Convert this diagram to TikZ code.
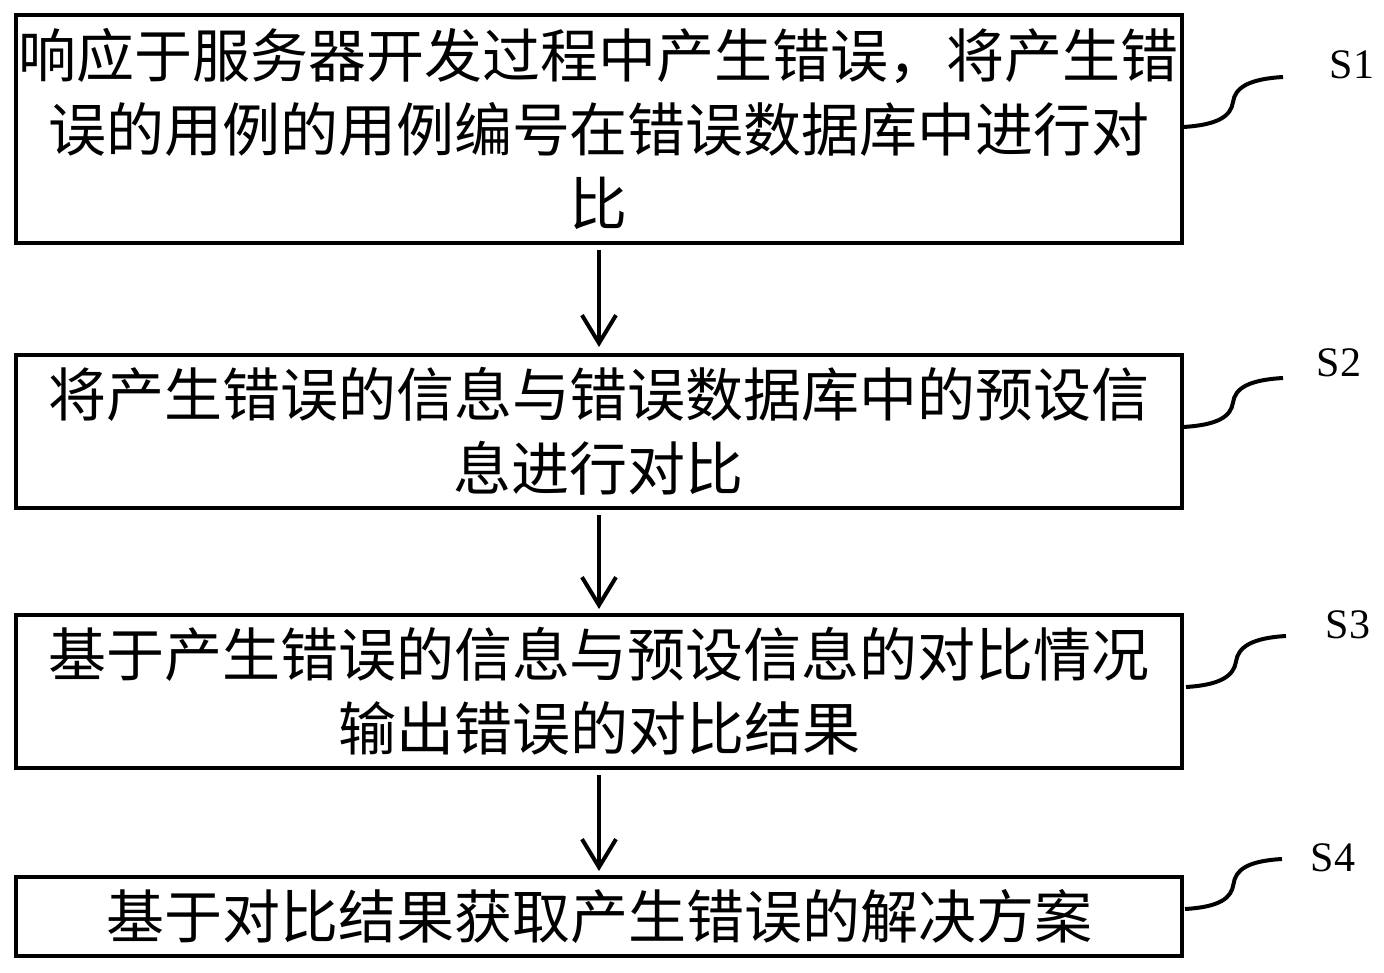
\documentclass[tikz,border=0pt]{standalone}
\usepackage{fontspec}
\setmainfont{Liberation Serif}
\newfontfamily\cjk{Noto Sans CJK SC}
\usetikzlibrary{arrows.meta,calc}
\tikzset{
  stepbox/.style={draw, line width=4pt, minimum width=1166pt, inner sep=0pt, outer sep=0pt, align=center,
     font=\cjk\fontsize{58}{74}\selectfont},
  flow/.style={line width=4pt, -{Straight Barb[length=28pt,width=34pt,line width=4pt]}},
  lead/.style={line width=4pt},
  steplabel/.style={font=\fontsize{42}{42}\selectfont, inner sep=0pt}
}
\begin{document}
\begin{tikzpicture}[x=1pt,y=1pt]
\useasboundingbox[fill=white] (0,0) rectangle (1384,-973);
\node[stepbox, minimum height=228pt] (b1) at (599,-129) {响应于服务器开发过程中产生错误，将产生错\\误的用例的用例编号在错误数据库中进行对\\比};
\node[stepbox, minimum height=153pt] (b2) at (599,-431.5) {将产生错误的信息与错误数据库中的预设信\\息进行对比};
\node[stepbox, minimum height=153pt] (b3) at (599,-691.5) {基于产生错误的信息与预设信息的对比情况\\输出错误的对比结果};
\node[stepbox, minimum height=79pt] (b4) at (599,-916.5) {基于对比结果获取产生错误的解决方案};

\draw[flow, shorten <=7pt, shorten >=8pt] (b1.south) -- (b2.north);
\draw[flow, shorten <=7pt, shorten >=6pt] (b2.south) -- (b3.north);
\draw[flow, shorten <=7pt, shorten >=6pt] (b3.south) -- (b4.north);

\coordinate (s1) at (1183,-127); \coordinate (e1) at (1283,-77);
\coordinate (s2) at (1183,-427); \coordinate (e2) at (1283,-378);
\coordinate (s3) at (1186,-687); \coordinate (e3) at (1286,-636);
\coordinate (s4) at (1185,-909); \coordinate (e4) at (1282,-859);
\foreach \i in {1,2,3,4}{
  \draw[lead] (s\i) .. controls +(35,2) and +(-2,-14) .. ($(s\i)!0.5!(e\i)$)
                    .. controls +(2,14) and +(-35,-2) .. (e\i);
}
\node[steplabel] (l1) at (1352,-65) {S1};
\node[steplabel] (l2) at (1339,-363) {S2};
\node[steplabel] (l3) at (1348,-625) {S3};
\node[steplabel] (l4) at (1333,-858) {S4};
\end{tikzpicture}
\end{document}
